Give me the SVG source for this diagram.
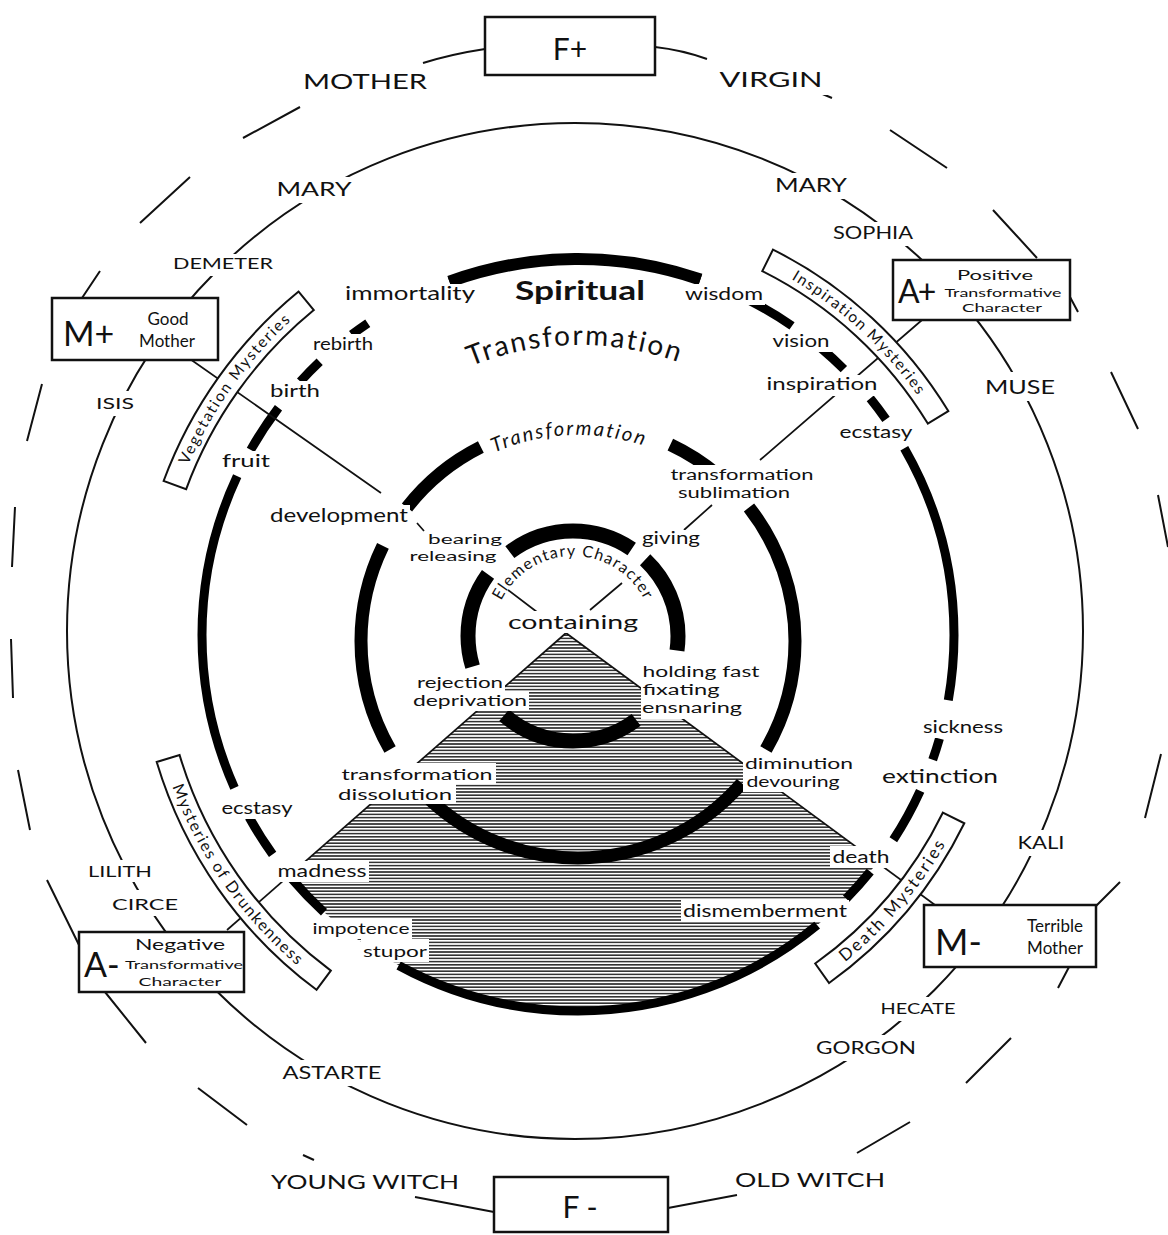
<svg xmlns="http://www.w3.org/2000/svg" width="1168" height="1235" viewBox="0 0 1168 1235">
<style>
text{font-family:Lato,"Open Sans","Liberation Sans",sans-serif;fill:#111}
.c{text-anchor:middle}
.bg{fill:#fff}
.box{fill:#fff;stroke:#111;stroke-width:2.5}
.thin{fill:none;stroke:#111;stroke-width:2}
.ax{fill:none;stroke:#111;stroke-width:1.7}
.ring{fill:none;stroke:#000}
.band{fill:#fff;stroke:#111;stroke-width:2}
</style>
<defs>
<pattern id="hatch" width="8" height="3.2" patternUnits="userSpaceOnUse"><rect width="8" height="3.2" fill="#fff"/><rect y="0.8" width="8" height="1.6" fill="#333"/></pattern>
<path id="pVeg" d="M184.1,475 A427,427 0 0 1 299.8,312.7"/>
<path id="pIns" d="M780.7,272.9 A414,414 0 0 1 925.2,406.5"/>
<path id="pDrk" d="M168.7,776.6 A435,435 0 0 0 306.3,973"/>
<path id="pDth" d="M839.2,966.7 A421,421 0 0 0 950,835.9"/>
<path id="pTrBig" d="M409.5,400.4 A290,290 0 0 1 742.2,394.6"/>
<path id="pTr4" d="M459.8,472.2 A206,206 0 0 1 681,462.6"/>
<path id="pElem" d="M495.4,616.6 A80,80 0 0 1 650.6,616.6"/>
</defs>
<rect width="1168" height="1235" fill="#fff"/>

<g id="shading">
<path d="M566,633 L877.4,862.5 A376,376 0 0 1 289.1,875.6 Z" fill="url(#hatch)"/>
</g>

<g id="outer-circle">
<path class="thin" d="M423,63 Q452,54 485,49 M655,47 Q682,50 707,59 M813,90 L832,98 M890,130 L947,168 M993,210 L1037,258 M1070,297 L1078,312 M1111,372 L1138,429 M1158,495 L1168,547 M1161,754 L1145,818 M1120,882 L1096,906 M1069,967 L1058,988 M1011,1038 L966,1083 M910,1122 L857,1153 M737,1195 L668,1208 M494,1212 L415,1197 M314,1160 L303,1155 M247,1125 L198,1088 M146,1043 L105,992 M79,945 L47,880 M30,830 L18,770 M13,698 L11,639 M12,567 L15,507 M27,441 L42,384 M82,298 L100,271 M140,223 L190,177 M243,138 L300,107"/>
</g>

<g id="circle-2">
<circle class="thin" cx="575" cy="631" r="508"/>
</g>

<g id="ring-3">
<path class="ring" stroke-width="9" pathLength="360" stroke-dasharray="10 6 3.4 5.1 8.5 6 5.5 6 68 14 7 4.8 6.7 5 49 4.5 7.7 5.2 4.2 6.4 3 14 39 8.3 7.4 5.6 4.7 6 4 5.2 29.8" d="M954,635 A376,376 0 1 1 202,635 A376,376 0 1 1 954,635"/>
<path class="ring" stroke-width="12" d="M449.4,281.7 A376,376 0 0 1 700.4,279.5"/>
</g>
<g id="ring-4">
<path class="ring" stroke-width="13" pathLength="360" stroke-dasharray="30 11 92 17 56 12 25.4 51.8 14.8 12 38" d="M795,641 A217,217 0 1 1 361,641 A217,217 0 1 1 795,641"/>
</g>
<g id="ring-5">
<path class="ring" stroke-width="15" pathLength="360" stroke-dasharray="8 45 78 32 53 17 71 9.4 46.6" d="M678,636 A105,105 0 1 1 468,636 A105,105 0 1 1 678,636"/>
</g>

<g id="connectors">
<path class="ax" d="M190,359 L381,493 M417,523 L424,531 M508,590 L537,612"/>
<path class="ax" d="M566,633 L935,905"/>
<path class="ax" d="M922,320 L760,460 M712,505 L684,530 M622,583 L590,610"/>
<path class="ax" d="M566,633 L227,930"/>
</g>

<g id="band-vegetation">
<path class="band" d="M163.6,481 A444,444 0 0 1 298.6,291.6 L313.8,310.1 A420,420 0 0 0 186.1,489.3 Z"/>
<text font-size="15.5" letter-spacing="1.8"><textPath href="#pVeg" startOffset="50%" text-anchor="middle">Vegetation Mysteries</textPath></text>
</g>
<g id="band-inspiration">
<path class="band" d="M773,249.6 A431,431 0 0 1 948.3,411.1 L927.8,423.6 A407,407 0 0 0 762.3,271.1 Z"/>
<text font-size="15.5" letter-spacing="1.5"><textPath href="#pIns" startOffset="50%" text-anchor="middle">Inspiration Mysteries</textPath></text>
</g>
<g id="band-drunkenness">
<path class="band" d="M156.7,762 A442,442 0 0 0 316.5,989.8 L330.8,970.6 A418,418 0 0 1 179.6,755.1 Z"/>
<text font-size="16" letter-spacing="1.6"><textPath href="#pDrk" startOffset="50%" text-anchor="middle">Mysteries of Drunkenness</textPath></text>
</g>
<g id="band-death">
<path class="band" d="M829.1,983 A428,428 0 0 0 964.3,823.3 L942.8,812.7 A404,404 0 0 1 815.2,963.5 Z"/>
<text font-size="17" letter-spacing="2.3"><textPath href="#pDth" startOffset="50%" text-anchor="middle">Death Mysteries</textPath></text>
</g>

<g id="curved-titles">
<text font-size="28" letter-spacing="2"><textPath href="#pTrBig" startOffset="50%" text-anchor="middle">Transformation</textPath></text>
<text font-size="20" letter-spacing="2" font-style="italic"><textPath href="#pTr4" startOffset="50%" text-anchor="middle">Transformation</textPath></text>
<text font-size="16" letter-spacing="1.3"><textPath href="#pElem" startOffset="50%" text-anchor="middle">Elementary Character</textPath></text>
<text class="c" x="580" y="300" font-size="26" font-weight="bold" textLength="130" lengthAdjust="spacingAndGlyphs">Spiritual</text>
</g>

<g id="names">
<g id="n-mother"><rect class="bg" x="297" y="68" width="136" height="29"/><text class="c" x="365" y="89" font-size="22" textLength="124" lengthAdjust="spacingAndGlyphs">MOTHER</text></g>
<g id="n-virgin"><rect class="bg" x="714" y="66" width="114" height="29"/><text class="c" x="771" y="87" font-size="22" textLength="103" lengthAdjust="spacingAndGlyphs">VIRGIN</text></g>
<g id="n-mary-l"><rect class="bg" x="270" y="177" width="88" height="26"/><text class="c" x="314" y="196" font-size="19" textLength="75" lengthAdjust="spacingAndGlyphs">MARY</text></g>
<g id="n-mary-r"><rect class="bg" x="768" y="173" width="86" height="26"/><text class="c" x="811" y="192" font-size="19" textLength="72" lengthAdjust="spacingAndGlyphs">MARY</text></g>
<g id="n-sophia"><rect class="bg" x="827" y="222" width="92" height="24"/><text class="c" x="873" y="239" font-size="17" textLength="80" lengthAdjust="spacingAndGlyphs">SOPHIA</text></g>
<g id="n-demeter"><rect class="bg" x="167" y="254" width="112" height="22"/><text class="c" x="223" y="269" font-size="15" textLength="100" lengthAdjust="spacingAndGlyphs">DEMETER</text></g>
<g id="n-isis"><rect class="bg" x="90" y="391" width="50" height="25"/><text class="c" x="115" y="409" font-size="16" textLength="38" lengthAdjust="spacingAndGlyphs">ISIS</text></g>
<g id="n-lilith"><rect class="bg" x="82" y="860" width="76" height="22"/><text class="c" x="120" y="877" font-size="15" textLength="64" lengthAdjust="spacingAndGlyphs">LILITH</text></g>
<g id="n-circe"><rect class="bg" x="106" y="890" width="78" height="26"/><text class="c" x="145" y="910" font-size="16" textLength="66" lengthAdjust="spacingAndGlyphs">CIRCE</text></g>
<g id="n-astarte"><rect class="bg" x="276" y="1060" width="112" height="26"/><text class="c" x="332" y="1079" font-size="17" textLength="99" lengthAdjust="spacingAndGlyphs">ASTARTE</text></g>
<g id="n-gorgon"><rect class="bg" x="810" y="1035" width="112" height="26"/><text class="c" x="866" y="1054" font-size="17" textLength="100" lengthAdjust="spacingAndGlyphs">GORGON</text></g>
<g id="n-hecate"><rect class="bg" x="874" y="997" width="88" height="24"/><text class="c" x="918" y="1014" font-size="15" textLength="75" lengthAdjust="spacingAndGlyphs">HECATE</text></g>
<g id="n-kali"><rect class="bg" x="1011" y="830" width="60" height="26"/><text class="c" x="1041" y="849" font-size="17" textLength="47" lengthAdjust="spacingAndGlyphs">KALI</text></g>
<g id="n-muse"><rect class="bg" x="979" y="372" width="82" height="29"/><text class="c" x="1020" y="394" font-size="19" textLength="70" lengthAdjust="spacingAndGlyphs">MUSE</text></g>
<g id="n-young-witch"><text class="c" x="365" y="1189" font-size="20" textLength="188" lengthAdjust="spacingAndGlyphs">YOUNG WITCH</text></g>
<g id="n-old-witch"><text class="c" x="810" y="1187" font-size="20" textLength="150" lengthAdjust="spacingAndGlyphs">OLD WITCH</text></g>
</g>

<g id="ring3-labels">
<g id="l-immortality"><rect class="bg" x="343" y="284" width="134" height="22"/><text class="c" x="410" y="300" font-size="19" textLength="130" lengthAdjust="spacingAndGlyphs">immortality</text></g>
<g id="l-wisdom"><rect class="bg" x="683" y="284" width="82" height="21"/><text class="c" x="724" y="300" font-size="18" textLength="78" lengthAdjust="spacingAndGlyphs">wisdom</text></g>
<g id="l-rebirth"><rect class="bg" x="311" y="334" width="64" height="21"/><text class="c" x="343" y="350" font-size="18" textLength="60" lengthAdjust="spacingAndGlyphs">rebirth</text></g>
<g id="l-birth"><rect class="bg" x="268" y="381" width="54" height="21"/><text class="c" x="295" y="397" font-size="18" textLength="50" lengthAdjust="spacingAndGlyphs">birth</text></g>
<g id="l-fruit"><rect class="bg" x="220" y="451" width="52" height="21"/><text class="c" x="246" y="467" font-size="18" textLength="48" lengthAdjust="spacingAndGlyphs">fruit</text></g>
<g id="l-vision"><rect class="bg" x="770" y="332" width="62" height="20"/><text class="c" x="801" y="347" font-size="17" textLength="57" lengthAdjust="spacingAndGlyphs">vision</text></g>
<g id="l-inspiration"><rect class="bg" x="765" y="375" width="115" height="21"/><text class="c" x="822" y="390" font-size="17" textLength="111" lengthAdjust="spacingAndGlyphs">inspiration</text></g>
<g id="l-ecstasy-r"><rect class="bg" x="838" y="424" width="77" height="20"/><text class="c" x="876" y="438" font-size="17" textLength="73" lengthAdjust="spacingAndGlyphs">ecstasy</text></g>
<g id="l-sickness"><rect class="bg" x="921" y="717" width="84" height="21"/><text class="c" x="963" y="733" font-size="18" textLength="80" lengthAdjust="spacingAndGlyphs">sickness</text></g>
<g id="l-extinction"><rect class="bg" x="880" y="765" width="120" height="23"/><text class="c" x="940" y="783" font-size="20" textLength="116" lengthAdjust="spacingAndGlyphs">extinction</text></g>
<g id="l-death"><rect class="bg" x="830" y="846" width="62" height="22"/><text class="c" x="861" y="863" font-size="18" textLength="57" lengthAdjust="spacingAndGlyphs">death</text></g>
<g id="l-dismemberment"><rect class="bg" x="681" y="900" width="168" height="21"/><text class="c" x="765" y="917" font-size="17" textLength="164" lengthAdjust="spacingAndGlyphs">dismemberment</text></g>
<g id="l-ecstasy-l"><rect class="bg" x="220" y="799" width="75" height="20"/><text class="c" x="257" y="814" font-size="17" textLength="71" lengthAdjust="spacingAndGlyphs">ecstasy</text></g>
<g id="l-madness"><rect class="bg" x="276" y="861" width="93" height="21"/><text class="c" x="322" y="877" font-size="17" textLength="89" lengthAdjust="spacingAndGlyphs">madness</text></g>
<g id="l-impotence"><rect class="bg" x="311" y="918" width="101" height="21"/><text class="c" x="361" y="934" font-size="15" textLength="97" lengthAdjust="spacingAndGlyphs">impotence</text></g>
<g id="l-stupor"><rect class="bg" x="361" y="939" width="68" height="23"/><text class="c" x="395" y="957" font-size="16" textLength="64" lengthAdjust="spacingAndGlyphs">stupor</text></g>
</g>

<g id="ring4-labels">
<g id="l-development"><rect class="bg" x="268" y="505" width="142" height="22"/><text class="c" x="339" y="522" font-size="19" textLength="138" lengthAdjust="spacingAndGlyphs">development</text></g>
<g id="l-transf-subl"><rect class="bg" x="668" y="465" width="148" height="37"/><text class="c" x="742" y="480" font-size="14.5" textLength="143" lengthAdjust="spacingAndGlyphs">transformation</text><text class="c" x="734" y="498" font-size="14.5" textLength="112" lengthAdjust="spacingAndGlyphs">sublimation</text></g>
<g id="l-dimin-devour"><rect class="bg" x="743" y="754" width="114" height="38"/><text class="c" x="799" y="769" font-size="14.5" textLength="108" lengthAdjust="spacingAndGlyphs">diminution</text><text class="c" x="793" y="787" font-size="14.5" textLength="93" lengthAdjust="spacingAndGlyphs">devouring</text></g>
<g id="l-transf-diss"><rect class="bg" x="340" y="763" width="156" height="21"/><rect class="bg" x="336" y="783" width="120" height="21"/><text class="c" x="417" y="780" font-size="16" textLength="151" lengthAdjust="spacingAndGlyphs">transformation</text><text class="c" x="395" y="800" font-size="16" textLength="114" lengthAdjust="spacingAndGlyphs">dissolution</text></g>
</g>

<g id="ring5-labels">
<g id="l-bearing"><rect class="bg" x="426" y="531" width="78" height="18"/><rect class="bg" x="408" y="548" width="91" height="18"/><text class="c" x="465" y="544" font-size="13.5" textLength="74" lengthAdjust="spacingAndGlyphs">bearing</text><text class="c" x="453" y="561" font-size="13.5" textLength="87" lengthAdjust="spacingAndGlyphs">releasing</text></g>
<g id="l-giving"><rect class="bg" x="640" y="530" width="62" height="20"/><text class="c" x="671" y="544" font-size="17" textLength="58" lengthAdjust="spacingAndGlyphs">giving</text></g>
<g id="l-containing"><rect class="bg" x="506" y="611" width="134" height="22"/><text class="c" x="573" y="629" font-size="20" textLength="130" lengthAdjust="spacingAndGlyphs">containing</text></g>
<g id="l-rejection"><rect class="bg" x="415" y="673" width="90" height="19"/><rect class="bg" x="411" y="691" width="118" height="20"/><text class="c" x="460" y="688" font-size="15" textLength="86" lengthAdjust="spacingAndGlyphs">rejection</text><text class="c" x="470" y="706" font-size="15" textLength="114" lengthAdjust="spacingAndGlyphs">deprivation</text></g>
<g id="l-holding"><rect class="bg" x="641" y="661" width="121" height="58"/><text class="c" x="701" y="677" font-size="14.5" textLength="117" lengthAdjust="spacingAndGlyphs">holding fast</text><text class="c" x="681" y="695" font-size="14.5" textLength="77" lengthAdjust="spacingAndGlyphs">fixating</text><text class="c" x="692" y="713" font-size="14.5" textLength="100" lengthAdjust="spacingAndGlyphs">ensnaring</text></g>
</g>

<g id="node-Fplus"><rect class="box" x="485" y="17" width="170" height="58"/><text class="c" x="570" y="60" font-size="30">F+</text></g>
<g id="node-Fminus"><rect class="box" x="494" y="1177" width="174" height="55"/><text class="c" x="580" y="1218" font-size="30">F -</text></g>
<g id="node-Mplus"><rect class="box" x="52" y="298" width="166" height="62"/><text x="63" y="346" font-size="34">M+</text><text class="c" x="168" y="325" font-size="17">Good</text><text class="c" x="167" y="347" font-size="17">Mother</text></g>
<g id="node-Aplus"><rect class="box" x="893" y="260" width="177" height="60"/><text x="898" y="303" font-size="32" letter-spacing="-2">A+</text><text class="c" x="995" y="280" font-size="13" textLength="76" lengthAdjust="spacingAndGlyphs">Positive</text><text class="c" x="1003" y="297" font-size="12" textLength="117" lengthAdjust="spacingAndGlyphs">Transformative</text><text class="c" x="1002" y="312" font-size="11" textLength="80" lengthAdjust="spacingAndGlyphs">Character</text></g>
<g id="node-Aminus"><rect class="box" x="79" y="932" width="165" height="60"/><text x="84" y="977" font-size="34">A-</text><text class="c" x="180" y="950" font-size="15" textLength="90" lengthAdjust="spacingAndGlyphs">Negative</text><text class="c" x="184" y="969" font-size="12" textLength="118" lengthAdjust="spacingAndGlyphs">Transformative</text><text class="c" x="180" y="986" font-size="11" textLength="83" lengthAdjust="spacingAndGlyphs">Character</text></g>
<g id="node-Mminus"><rect class="box" x="924" y="905" width="172" height="62"/><text x="935" y="955" font-size="36">M-</text><text class="c" x="1055" y="932" font-size="17">Terrible</text><text class="c" x="1055" y="954" font-size="17">Mother</text></g>
</svg>
